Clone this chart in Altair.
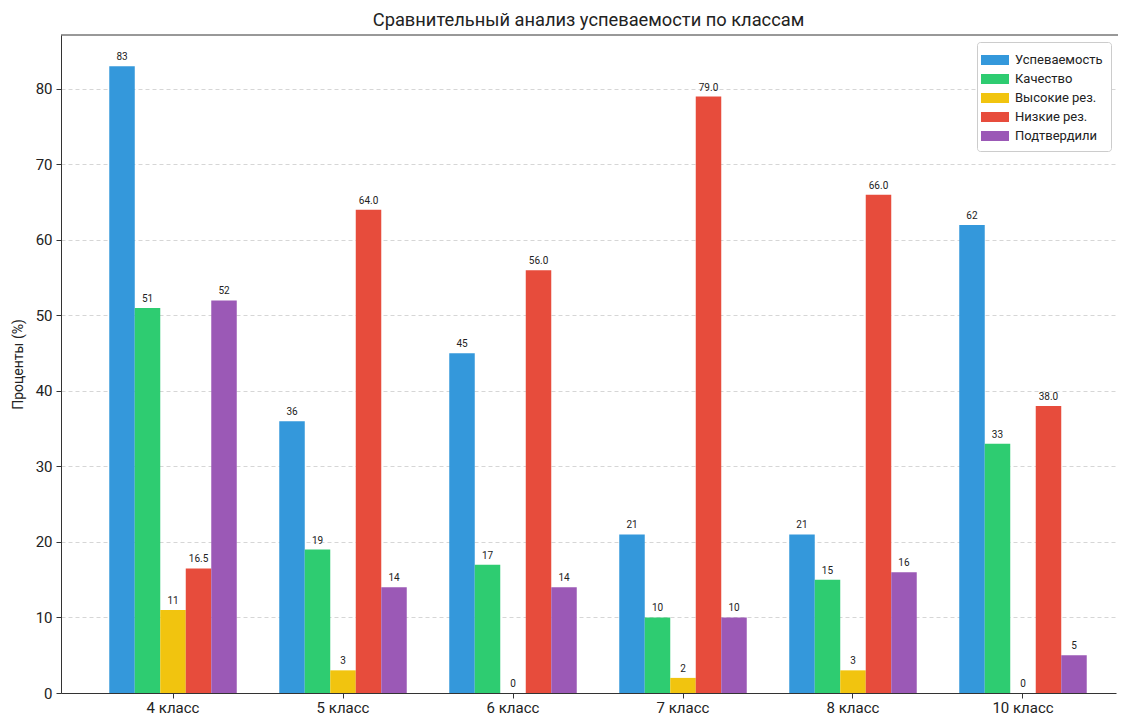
import altair as alt
import pandas as pd

classes = ["4 класс", "5 класс", "6 класс", "7 класс", "8 класс", "10 класс"]
series = ["Успеваемость", "Качество", "Высокие рез.", "Низкие рез.", "Подтвердили"]
colors = ["#3498db", "#2ecc71", "#f1c40f", "#e74c3c", "#9b59b6"]

uspev = [83, 36, 45, 21, 21, 62]
kachestvo = [51, 19, 17, 10, 15, 33]
vysokie = [11, 3, 0, 2, 3, 0]
nizkie = [16.5, 64.0, 56.0, 79.0, 66.0, 38.0]
podtverdili = [52, 14, 14, 10, 16, 5]

values = [uspev, kachestvo, vysokie, nizkie, podtverdili]
rows = []
for s, vals in zip(series, values):
    for c, v in zip(classes, vals):
        lab = f"{v:.1f}" if s == "Низкие рез." else f"{int(v)}"
        rows.append({"class": c, "series": s, "value": v, "label": lab})
df = pd.DataFrame(rows)

FONT = "Roboto"
W, H = 1055, 658

x_enc = alt.X("class:N", sort=classes, title=None,
              scale=alt.Scale(paddingInner=0.25, paddingOuter=0.228, align=0.6226),
              axis=alt.Axis(labelAngle=0, labelFontSize=15, labelColor="#222",
                            tickSize=5, tickColor="#333", domainColor="#333",
                            labelPadding=2, grid=False))
xo_enc = alt.XOffset("series:N", sort=series,
                     scale=alt.Scale(paddingInner=0, paddingOuter=0))
y_enc = alt.Y("value:Q", title="Проценты (%)",
              scale=alt.Scale(domain=[0, 87.15], nice=False, zero=True),
              axis=alt.Axis(values=[0, 10, 20, 30, 40, 50, 60, 70, 80],
                            labelFontSize=15, labelColor="#222", tickSize=5,
                            tickColor="#333", domainColor="#333",
                            grid=True, gridDash=[4, 3], gridColor="#cccccc",
                            gridWidth=0.8, labelPadding=4,
                            titleFontSize=14, titleFontWeight="normal",
                            titleColor="#222", titleX=-43, titleY=H / 2,
                            titleAlign="center", titleBaseline="middle"))

base = alt.Chart(df)

bars = base.mark_bar().encode(
    x=x_enc,
    xOffset=xo_enc,
    y=y_enc,
    color=alt.Color("series:N", sort=series,
                    scale=alt.Scale(domain=series, range=colors),
                    legend=alt.Legend(title=None, orient="none",
                                      legendX=916, legendY=7,
                                      symbolType="M-1.4,-0.5L1.4,-0.5L1.4,0.5L-1.4,0.5Z",
                                      symbolSize=400, symbolStrokeWidth=0,
                                      labelFontSize=13, labelColor="#222",
                                      labelOffset=10, rowPadding=2,
                                      fillColor="white", strokeColor="#cccccc",
                                      cornerRadius=3, padding=8)),
)

texts = base.mark_text(baseline="bottom", dy=-4, fontSize=10, color="#222").encode(
    x=alt.X("class:N", sort=classes),
    xOffset=alt.XOffset("series:N", sort=series),
    y=alt.Y("value:Q"),
    text="label:N",
)

top_line = alt.Chart(pd.DataFrame({"v": [0]})).mark_rule(color="#333", strokeWidth=1).encode(
    y=alt.value(0), x=alt.value(0), x2=alt.value(W + 2)
)

chart = alt.layer(bars, texts, top_line).properties(
    width=W, height=H,
    title=alt.Title("Сравнительный анализ успеваемости по классам",
                    fontSize=18.3, fontWeight="normal", color="#222",
                    anchor="middle", offset=4),
    autosize=alt.AutoSizeParams(type="none"),
    padding={"left": 53, "top": 27, "right": 2, "bottom": 24},
).configure(font=FONT).configure_view(stroke=None)

chart.save("out.html", embed_options={"renderer": "svg", "actions": False})
